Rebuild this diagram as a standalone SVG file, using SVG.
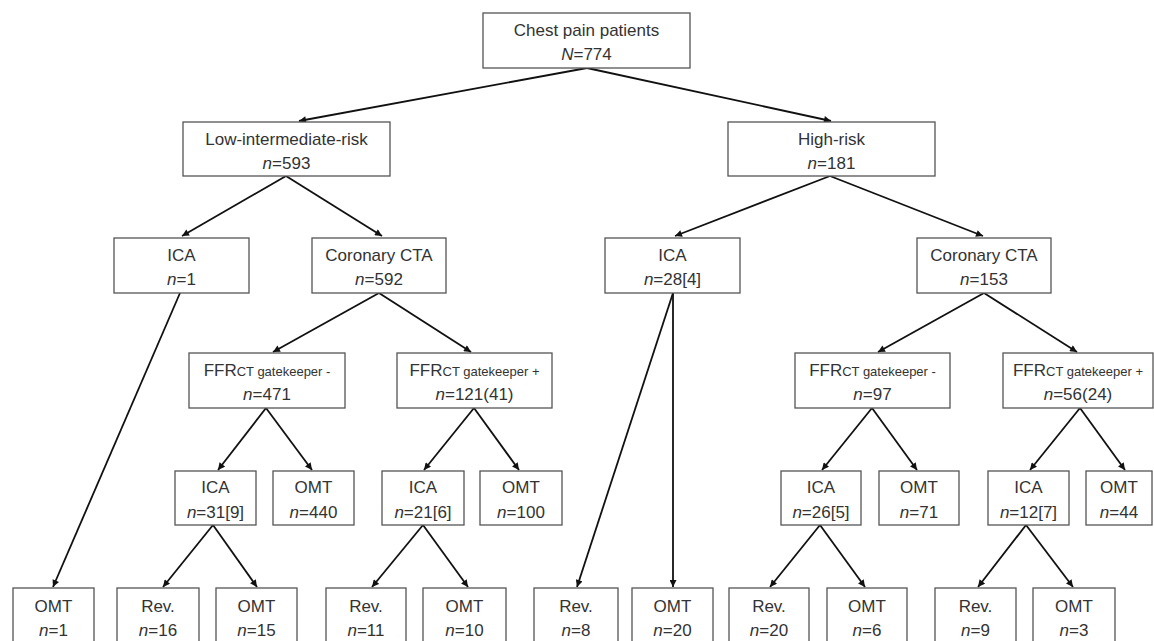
<svg xmlns="http://www.w3.org/2000/svg" width="1154" height="641" viewBox="0 0 1154 641">
<style>
  .box { fill: #ffffff; stroke: #555555; stroke-width: 1.3; }
  .t { font-family: "Liberation Sans", Arial, sans-serif; font-size: 17px; fill: #333333; text-anchor: middle; }
  .s { font-size: 13px; }
  .i { font-style: italic; }
  .edge { stroke: #111111; stroke-width: 1.8; fill: none; marker-end: url(#arr); }
</style>
<defs>
  <marker id="arr" viewBox="0 0 10 10" refX="10" refY="5" markerWidth="8" markerHeight="7" markerUnits="userSpaceOnUse" orient="auto">
    <path d="M0,0 L10,5 L0,10 z" fill="#111111"/>
  </marker>
</defs>
<rect width="1154" height="641" fill="#ffffff"/>

<g id="connectors">
  <line class="edge" x1="587" y1="68" x2="299" y2="121"/>
  <line class="edge" x1="587" y1="68" x2="831" y2="121"/>
  <line class="edge" x1="286" y1="176" x2="182" y2="236"/>
  <line class="edge" x1="286" y1="176" x2="382" y2="236"/>
  <line class="edge" x1="830" y1="176" x2="675" y2="236"/>
  <line class="edge" x1="830" y1="176" x2="983" y2="236"/>
  <line class="edge" x1="379" y1="293" x2="273" y2="352"/>
  <line class="edge" x1="379" y1="293" x2="471" y2="352"/>
  <line class="edge" x1="984" y1="293" x2="878" y2="352"/>
  <line class="edge" x1="984" y1="293" x2="1077" y2="352"/>
  <line class="edge" x1="266" y1="408" x2="218" y2="470"/>
  <line class="edge" x1="266" y1="408" x2="312" y2="470"/>
  <line class="edge" x1="474" y1="408" x2="424" y2="470"/>
  <line class="edge" x1="474" y1="408" x2="519" y2="470"/>
  <line class="edge" x1="872" y1="408" x2="822" y2="470"/>
  <line class="edge" x1="872" y1="408" x2="917" y2="470"/>
  <line class="edge" x1="1080" y1="408" x2="1030" y2="470"/>
  <line class="edge" x1="1080" y1="408" x2="1125" y2="470"/>
  <line class="edge" x1="180" y1="293" x2="53" y2="587"/>
  <line class="edge" x1="673" y1="293" x2="577" y2="587"/>
  <line class="edge" x1="673" y1="293" x2="673" y2="587"/>
  <line class="edge" x1="213" y1="525" x2="163" y2="587"/>
  <line class="edge" x1="213" y1="525" x2="257" y2="587"/>
  <line class="edge" x1="423" y1="525" x2="372" y2="587"/>
  <line class="edge" x1="423" y1="525" x2="468" y2="587"/>
  <line class="edge" x1="820" y1="525" x2="770" y2="587"/>
  <line class="edge" x1="820" y1="525" x2="865" y2="587"/>
  <line class="edge" x1="1026" y1="525" x2="978" y2="587"/>
  <line class="edge" x1="1026" y1="525" x2="1073" y2="587"/>
</g>

<g id="n-root">
  <rect class="box" x="483" y="13" width="207" height="55"/>
  <text class="t" x="586.5" y="36">Chest pain patients</text>
  <text class="t" x="586.5" y="60"><tspan class="i">N</tspan>=774</text>
</g>

<g id="n-low">
  <rect class="box" x="183" y="122" width="207" height="54"/>
  <text class="t" x="286.5" y="145">Low-intermediate-risk</text>
  <text class="t" x="286.5" y="169"><tspan class="i">n</tspan>=593</text>
</g>
<g id="n-high">
  <rect class="box" x="728" y="122" width="207" height="54"/>
  <text class="t" x="831.5" y="145">High-risk</text>
  <text class="t" x="831.5" y="169"><tspan class="i">n</tspan>=181</text>
</g>

<g id="n-low-ica">
  <rect class="box" x="114" y="238" width="135" height="55"/>
  <text class="t" x="181.5" y="261">ICA</text>
  <text class="t" x="181.5" y="285"><tspan class="i">n</tspan>=1</text>
</g>
<g id="n-low-cta">
  <rect class="box" x="312" y="238" width="134" height="55"/>
  <text class="t" x="379" y="261">Coronary CTA</text>
  <text class="t" x="379" y="285"><tspan class="i">n</tspan>=592</text>
</g>
<g id="n-high-ica">
  <rect class="box" x="605" y="238" width="135" height="55"/>
  <text class="t" x="672.5" y="261">ICA</text>
  <text class="t" x="672.5" y="285"><tspan class="i">n</tspan>=28[4]</text>
</g>
<g id="n-high-cta">
  <rect class="box" x="917" y="238" width="134" height="55"/>
  <text class="t" x="984" y="261">Coronary CTA</text>
  <text class="t" x="984" y="285"><tspan class="i">n</tspan>=153</text>
</g>

<g id="n-low-ffr-neg">
  <rect class="box" x="189" y="353" width="156" height="55"/>
  <text class="t" x="267" y="376">FFR<tspan class="s">CT gatekeeper -</tspan></text>
  <text class="t" x="267" y="400"><tspan class="i">n</tspan>=471</text>
</g>
<g id="n-low-ffr-pos">
  <rect class="box" x="397" y="353" width="155" height="55"/>
  <text class="t" x="474.5" y="376">FFR<tspan class="s">CT gatekeeper +</tspan></text>
  <text class="t" x="474.5" y="400"><tspan class="i">n</tspan>=121(41)</text>
</g>
<g id="n-high-ffr-neg">
  <rect class="box" x="795" y="353" width="155" height="55"/>
  <text class="t" x="872.5" y="376">FFR<tspan class="s">CT gatekeeper -</tspan></text>
  <text class="t" x="872.5" y="400"><tspan class="i">n</tspan>=97</text>
</g>
<g id="n-high-ffr-pos">
  <rect class="box" x="1003" y="353" width="150" height="55"/>
  <text class="t" x="1078" y="376">FFR<tspan class="s">CT gatekeeper +</tspan></text>
  <text class="t" x="1078" y="400"><tspan class="i">n</tspan>=56(24)</text>
</g>

<g id="n-ica-31">
  <rect class="box" x="175" y="471" width="81" height="54"/>
  <text class="t" x="215.5" y="493">ICA</text>
  <text class="t" x="215.5" y="518"><tspan class="i">n</tspan>=31[9]</text>
</g>
<g id="n-omt-440">
  <rect class="box" x="273" y="471" width="81" height="54"/>
  <text class="t" x="313.5" y="493">OMT</text>
  <text class="t" x="313.5" y="518"><tspan class="i">n</tspan>=440</text>
</g>
<g id="n-ica-21">
  <rect class="box" x="382" y="471" width="82" height="54"/>
  <text class="t" x="423" y="493">ICA</text>
  <text class="t" x="423" y="518"><tspan class="i">n</tspan>=21[6]</text>
</g>
<g id="n-omt-100">
  <rect class="box" x="480" y="471" width="82" height="54"/>
  <text class="t" x="521" y="493">OMT</text>
  <text class="t" x="521" y="518"><tspan class="i">n</tspan>=100</text>
</g>
<g id="n-ica-26">
  <rect class="box" x="781" y="471" width="80" height="54"/>
  <text class="t" x="821" y="493">ICA</text>
  <text class="t" x="821" y="518"><tspan class="i">n</tspan>=26[5]</text>
</g>
<g id="n-omt-71">
  <rect class="box" x="879" y="471" width="80" height="54"/>
  <text class="t" x="919" y="493">OMT</text>
  <text class="t" x="919" y="518"><tspan class="i">n</tspan>=71</text>
</g>
<g id="n-ica-12">
  <rect class="box" x="988" y="471" width="81" height="54"/>
  <text class="t" x="1028.5" y="493">ICA</text>
  <text class="t" x="1028.5" y="518"><tspan class="i">n</tspan>=12[7]</text>
</g>
<g id="n-omt-44">
  <rect class="box" x="1086" y="471" width="66" height="54"/>
  <text class="t" x="1119" y="493">OMT</text>
  <text class="t" x="1119" y="518"><tspan class="i">n</tspan>=44</text>
</g>

<g id="n-omt-1">
  <rect class="box" x="13" y="588" width="81" height="62"/>
  <text class="t" x="53.5" y="612">OMT</text>
  <text class="t" x="53.5" y="636"><tspan class="i">n</tspan>=1</text>
</g>
<g id="n-rev-16">
  <rect class="box" x="117" y="588" width="82" height="62"/>
  <text class="t" x="158" y="612">Rev.</text>
  <text class="t" x="158" y="636"><tspan class="i">n</tspan>=16</text>
</g>
<g id="n-omt-15">
  <rect class="box" x="216" y="588" width="81" height="62"/>
  <text class="t" x="256.5" y="612">OMT</text>
  <text class="t" x="256.5" y="636"><tspan class="i">n</tspan>=15</text>
</g>
<g id="n-rev-11">
  <rect class="box" x="326" y="588" width="80" height="62"/>
  <text class="t" x="366" y="612">Rev.</text>
  <text class="t" x="366" y="636"><tspan class="i">n</tspan>=11</text>
</g>
<g id="n-omt-10">
  <rect class="box" x="423" y="588" width="83" height="62"/>
  <text class="t" x="464.5" y="612">OMT</text>
  <text class="t" x="464.5" y="636"><tspan class="i">n</tspan>=10</text>
</g>
<g id="n-rev-8">
  <rect class="box" x="534" y="588" width="84" height="62"/>
  <text class="t" x="576" y="612">Rev.</text>
  <text class="t" x="576" y="636"><tspan class="i">n</tspan>=8</text>
</g>
<g id="n-omt-20">
  <rect class="box" x="632" y="588" width="81" height="62"/>
  <text class="t" x="672.5" y="612">OMT</text>
  <text class="t" x="672.5" y="636"><tspan class="i">n</tspan>=20</text>
</g>
<g id="n-rev-20">
  <rect class="box" x="729" y="588" width="80" height="62"/>
  <text class="t" x="769" y="612">Rev.</text>
  <text class="t" x="769" y="636"><tspan class="i">n</tspan>=20</text>
</g>
<g id="n-omt-6">
  <rect class="box" x="827" y="588" width="80" height="62"/>
  <text class="t" x="867" y="612">OMT</text>
  <text class="t" x="867" y="636"><tspan class="i">n</tspan>=6</text>
</g>
<g id="n-rev-9">
  <rect class="box" x="935" y="588" width="81" height="62"/>
  <text class="t" x="975.5" y="612">Rev.</text>
  <text class="t" x="975.5" y="636"><tspan class="i">n</tspan>=9</text>
</g>
<g id="n-omt-3">
  <rect class="box" x="1033" y="588" width="82" height="62"/>
  <text class="t" x="1074" y="612">OMT</text>
  <text class="t" x="1074" y="636"><tspan class="i">n</tspan>=3</text>
</g>
</svg>
